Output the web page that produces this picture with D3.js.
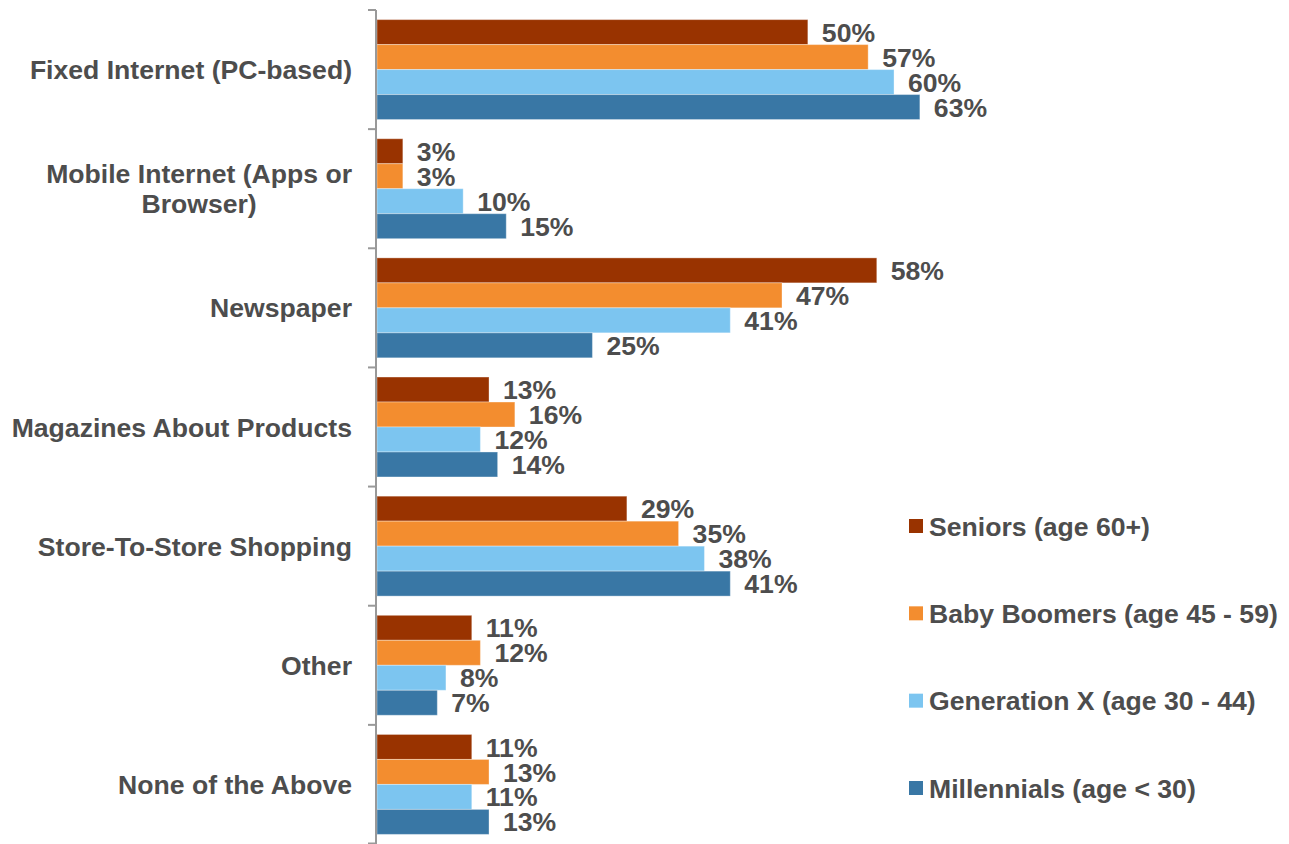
<!DOCTYPE html>
<html>
<head>
<meta charset="utf-8">
<script src="https://cdn.jsdelivr.net/npm/d3@7/dist/d3.min.js"></script>
<style>
  html, body { margin: 0; padding: 0; background: #ffffff; }
  svg { display: block; }
  text { font-family: "Liberation Sans", Arial, Helvetica, sans-serif; font-weight: bold; fill: #4d4d4d; }
</style>
</head>
<body>
<svg id="chart" width="1289" height="844"></svg>
<script>
// Information sources by generation (share of respondents)
const categories = [
  "Fixed Internet (PC-based)",
  "Mobile Internet (Apps or Browser)",
  "Newspaper",
  "Magazines About Products",
  "Store-To-Store Shopping",
  "Other",
  "None of the Above"
];
const seriesNames = [
  "Seniors (age 60+)",
  "Baby Boomers (age 45 - 59)",
  "Generation X (age 30 - 44)",
  "Millennials (age < 30)"
];
const seniors     = [0.50, 0.03, 0.58, 0.13, 0.29, 0.11, 0.11];
const babyBoomers = [0.57, 0.03, 0.47, 0.16, 0.35, 0.12, 0.13];
const generationX = [0.60, 0.10, 0.41, 0.12, 0.38, 0.08, 0.11];
const millennials = [0.63, 0.15, 0.25, 0.14, 0.41, 0.07, 0.13];
const seriesColors = ["#993300", "#F38D2F", "#7CC5F0", "#3977A5"];

const seriesValues = [seniors, babyBoomers, generationX, millennials];
const rows = [];
categories.forEach((c, ci) => {
  seriesNames.forEach((s, si) => {
    rows.push({ category: c, series: s, value: seriesValues[si][ci] });
  });
});

const fontSize = "26.6px";
const svg = d3.select("#chart");
const axisX = 376;
const x = d3.scaleLinear().domain([0, 1]).range([axisX, axisX + 861.7]);
const y0 = d3.scaleBand().domain(categories).range([10, 844]).padding(0);
const groupPad = 9.6;
const y1 = d3.scaleBand().domain(seriesNames)
  .range([groupPad, y0.bandwidth() - groupPad]).padding(0);
const color = d3.scaleOrdinal().domain(seriesNames).range(seriesColors);
const fmt = d3.format(".0%");

// Bars
svg.append("g").selectAll("rect").data(rows).join("rect")
  .attr("x", x(0) + 1)
  .attr("y", d => y0(d.category) + y1(d.series))
  .attr("width", d => x(d.value) - x(0))
  .attr("height", y1.bandwidth())
  .attr("fill", d => color(d.series))
  .attr("stroke", "rgba(255,255,255,0.35)")
  .attr("stroke-width", 1);

// Value labels
svg.append("g").selectAll("text").data(rows).join("text")
  .attr("x", d => x(d.value) + 15)
  .attr("y", d => y0(d.category) + y1(d.series) + y1.bandwidth() / 2)
  .attr("dy", "0.36em")
  .style("font-size", fontSize)
  .text(d => fmt(d.value));

// Category axis: line plus tick marks at band boundaries
const axisG = svg.append("g");
axisG.append("line")
  .attr("x1", axisX).attr("x2", axisX)
  .attr("y1", y0.range()[0]).attr("y2", y0.range()[1])
  .attr("stroke", "#999999").attr("stroke-width", 2);
const boundaries = categories.map(c => y0(c)).concat([y0.range()[1] - 0.5]);
axisG.selectAll("line.tick").data(boundaries).join("line")
  .attr("class", "tick")
  .attr("x1", axisX - 8).attr("x2", axisX)
  .attr("y1", d => d).attr("y2", d => d)
  .attr("stroke", "#999999").attr("stroke-width", 2);

// Category labels, wrapped and centred as a block ending left of the axis
const labelRight = 352;
const maxLabelWidth = 360;
const lineHeight = 30;
const labelG = svg.append("g").style("font-size", fontSize);
categories.forEach(c => {
  const t = labelG.append("text").attr("text-anchor", "middle");
  const words = c.split(" ");
  const lines = [];
  let cur = [];
  const probe = labelG.append("text");
  words.forEach(w => {
    const attempt = cur.concat([w]).join(" ");
    probe.text(attempt);
    if (probe.node().getComputedTextLength() > maxLabelWidth && cur.length) {
      lines.push(cur.join(" "));
      cur = [w];
    } else {
      cur.push(w);
    }
  });
  lines.push(cur.join(" "));
  const widths = lines.map(l => { probe.text(l); return probe.node().getComputedTextLength(); });
  probe.remove();
  const blockW = d3.max(widths);
  const cx = labelRight - blockW / 2;
  const cy = y0(c) + y0.bandwidth() / 2;
  const firstBaseline = cy - (lines.length - 1) * lineHeight / 2 + 9.5;
  lines.forEach((l, i) => {
    t.append("tspan").attr("x", cx).attr("y", firstBaseline + i * lineHeight).text(l);
  });
});

// Legend
const legendY = d3.scalePoint().domain(seriesNames).range([526, 788]);
const legend = svg.append("g").selectAll("g").data(seriesNames).join("g")
  .attr("transform", d => `translate(909,${legendY(d)})`);
legend.append("rect")
  .attr("x", 0).attr("y", -7).attr("width", 14).attr("height", 14)
  .attr("fill", d => color(d));
legend.append("text")
  .attr("x", 20).attr("dy", "0.36em")
  .style("font-size", fontSize)
  .text(d => d);
</script>
</body>
</html>
